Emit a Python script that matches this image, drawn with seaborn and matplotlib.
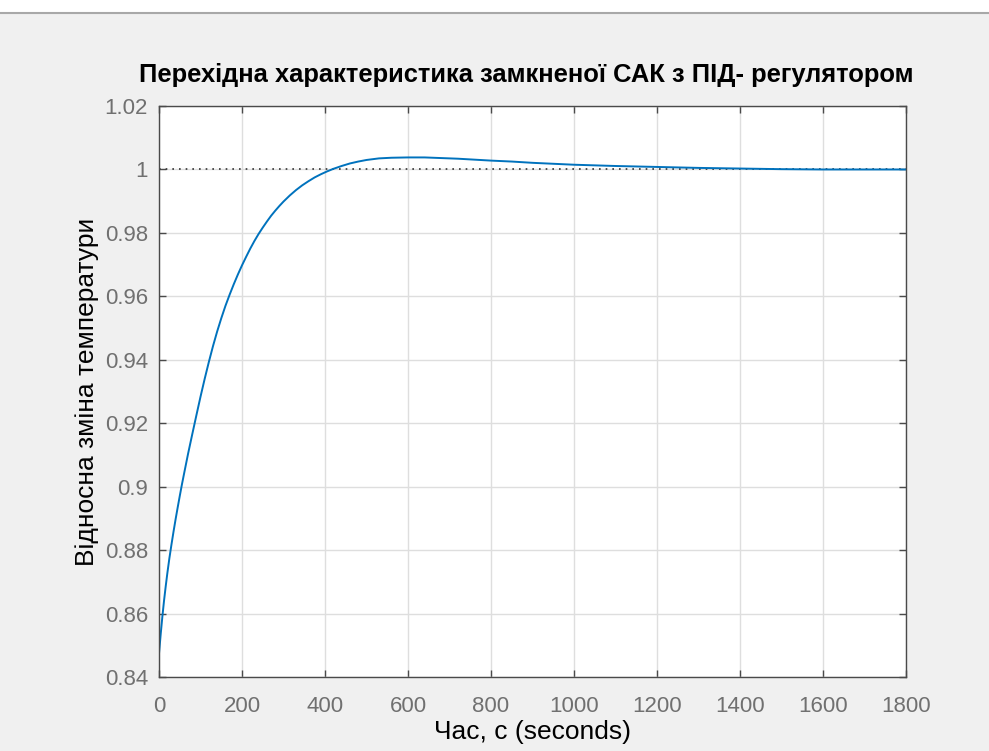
import numpy as np
import pandas as pd
import matplotlib
matplotlib.use("Agg")
import matplotlib.pyplot as plt
from matplotlib.lines import Line2D
from matplotlib.patches import Rectangle
import seaborn as sns

# step response
time_s = [0, 4, 8, 12, 16, 20, 25, 30, 35, 40, 45, 50, 55, 60, 70, 80, 90,
          100, 110, 120, 130, 140, 150, 160, 170, 180, 190, 200, 210, 220,
          230, 240, 250, 260, 270, 280, 290, 300, 315, 330, 345, 360, 375,
          390, 405, 420, 440, 460, 480, 500, 530, 560, 600, 640, 680, 720,
          760, 800, 850, 900, 950, 1000, 1100, 1200, 1300, 1400, 1500, 1600,
          1700, 1800]
response = [0.8475, 0.8535, 0.8590, 0.8640, 0.8685, 0.8727, 0.8775, 0.8818,
            0.8859, 0.8898, 0.8935, 0.8971, 0.9006, 0.9039, 0.9104, 0.9165,
            0.9225, 0.9284, 0.9340, 0.9393, 0.9443, 0.9489, 0.9531, 0.9570,
            0.9605, 0.9638, 0.9669, 0.9698, 0.9725, 0.9751, 0.9775, 0.9797,
            0.9817, 0.9836, 0.9854, 0.9870, 0.9885, 0.9899, 0.9918, 0.9935,
            0.9950, 0.9963, 0.9975, 0.9985, 0.9994, 1.0002, 1.0011, 1.0019,
            1.0025, 1.0030, 1.0035, 1.0037, 1.0038, 1.0038, 1.0036, 1.0034,
            1.0031, 1.0028, 1.0025, 1.0021, 1.0018, 1.0015, 1.0011, 1.0008,
            1.0005, 1.0003, 1.0001, 1.0000, 1.0000, 1.0000]
setpoint = [1.0, 1.0]
setpoint_t = [0, 1800]

x_ticks = [0, 200, 400, 600, 800, 1000, 1200, 1400, 1600, 1800]
y_ticks = [0.84, 0.86, 0.88, 0.9, 0.92, 0.94, 0.96, 0.98, 1, 1.02]
y_tick_labels = ["0.84", "0.86", "0.88", "0.9", "0.92", "0.94", "0.96", "0.98", "1", "1.02"]

title = "Перехідна характеристика замкненої САК з ПІД- регулятором"
x_label = "Час, с (seconds)"
y_label = "Відносна зміна температури"

df = pd.DataFrame({"t": time_s, "y": response})

sns.set_theme(style="whitegrid")
plt.rcParams["font.family"] = ["Liberation Sans", "DejaVu Sans"]

fig = plt.figure(figsize=(9.89, 7.51), dpi=100)
fig.patch.set_facecolor("#f0f0f0")
# white strip and rule at the very top, like the window screenshot
fig.add_artist(Rectangle((0, 1 - 12 / 751), 1, 12 / 751, transform=fig.transFigure,
                         facecolor="white", edgecolor="none"))
fig.add_artist(Line2D([0, 1], [1 - 12.5 / 751] * 2, transform=fig.transFigure,
                      color="#a8a8a8", lw=1.5))

ax = fig.add_axes([0.1608, 0.0985, 0.7553, 0.7603])
ax.set_facecolor("white")

ax.plot(setpoint_t, setpoint, linestyle=(0, (1, 3)), color="#333333", lw=1.2)
sns.lineplot(data=df, x="t", y="y", ax=ax, color="#0072BD", lw=1.4)

ax.set_xlim(0, 1800)
ax.set_ylim(0.84, 1.02)
ax.set_xticks(x_ticks)
ax.set_yticks(y_ticks)
ax.set_yticklabels(y_tick_labels)

ax.grid(True, color="#dedede", lw=1.0)
for s in ax.spines.values():
    s.set_visible(True)
    s.set_color("#4a4a4a")
    s.set_linewidth(1.0)

ax.tick_params(axis="both", which="both", direction="in", length=5, width=1,
               color="#4a4a4a", labelcolor="#707070", labelsize=16,
               top=True, right=True, bottom=True, left=True)
ax.tick_params(axis="x", pad=14)
ax.tick_params(axis="y", pad=8)

ax.set_xlabel(x_label, fontsize=19, color="black", labelpad=2)
ax.set_ylabel(y_label, fontsize=19, color="black", labelpad=4)
ax.set_title(title, fontsize=18.4, fontweight="bold", color="black", pad=17, x=0.492)

fig.savefig("out.png", dpi=100, facecolor=fig.get_facecolor())
